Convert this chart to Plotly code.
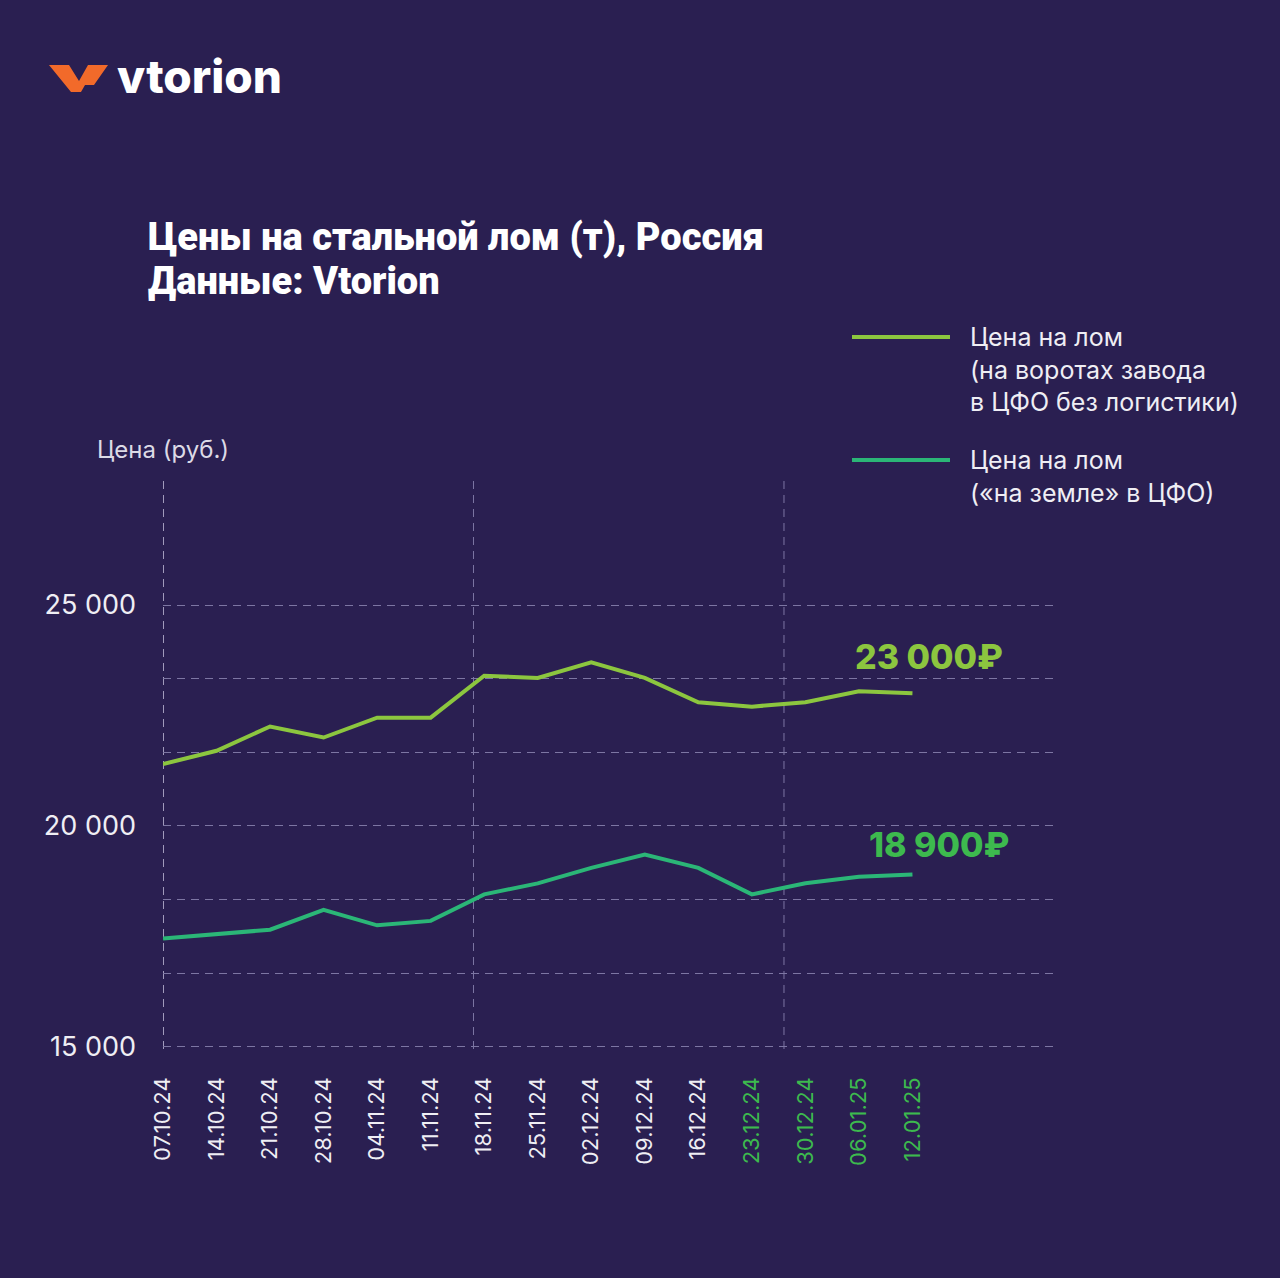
"""
Steel scrap prices chart (Vtorion style), rebuilt with Plotly.
"""

import plotly.graph_objects as go


# --- data -----------------------------------------------------------------
dates = [
    "07.10.24", "14.10.24", "21.10.24", "28.10.24", "04.11.24",
    "11.11.24", "18.11.24", "25.11.24", "02.12.24", "09.12.24",
    "16.12.24", "23.12.24", "30.12.24", "06.01.25", "12.01.25",
]
# "at plant gates in CFD, no logistics"
gate_price = [
    21400, 21700, 22250, 22000, 22450,
    22450, 23400, 23350, 23700, 23350,
    22800, 22700, 22800, 23050, 23000,
]
# "on the ground in CFD"
ground_price = [
    17450, 17550, 17650, 18100, 17750,
    17850, 18450, 18700, 19050, 19350,
    19050, 18450, 18700, 18850, 18900,
]
highlight_from = 11  # labels from 23.12.24 on are drawn in green

title_lines = ["Цены на стальной лом (т), Россия", "Данные: Vtorion"]
legend_gate = "Цена на лом<br>(на воротах завода<br>в ЦФО без логистики)"
legend_ground = "Цена на лом<br>(«на земле» в ЦФО)"

# --- style ----------------------------------------------------------------
W, H = 1280, 1278
BG = "#2a1f51"
GRID = "#7d76a3"
LIGHT_GREEN = "#8cc63f"
TEAL_GREEN = "#2bb677"
LABEL_GREEN = "#3dba4e"
TEXT = "#efeef4"
FONT = "Inter, Roboto, 'Open Sans', sans-serif"
DASH = "8px,6px"


def px(x):
    return x / W


def py(y):
    return 1 - y / H


def rub(v):
    return f"{v:,}".replace(",", " ") + "₽"


x_idx = list(range(len(dates)))
tick_text = [
    d if i < highlight_from else f"<span style='color:{LABEL_GREEN}'>{d}</span>"
    for i, d in enumerate(dates)
]
# thin gridlines between the labelled ticks, up to 25 000 only
minor_grid = [15000 + k * 5000 / 3 for k in range(1, 6) if k % 3]

fig = go.Figure()
fig.add_trace(go.Scatter(
    x=x_idx, y=gate_price, mode="lines",
    line=dict(color=LIGHT_GREEN, width=4),
    name="gate",
))
fig.add_trace(go.Scatter(
    x=x_idx, y=ground_price, mode="lines",
    line=dict(color=TEAL_GREEN, width=4),
    name="ground",
))

fig.update_xaxes(
    domain=[px(163), px(1057)],
    range=[0, 16.7],
    tickmode="array",
    tickvals=x_idx,
    ticktext=tick_text,
    tickangle=-90,
    tickfont=dict(size=22, color=TEXT, family=FONT),
    ticklabelstandoff=23,
    showgrid=False,
    zeroline=False,
    showline=False,
    automargin=False,
)
fig.update_yaxes(
    domain=[py(1049), py(480)],
    range=[14950, 27830],
    tick0=15000,
    dtick=5000,
    tickformat=",d",
    tickfont=dict(size=27, color=TEXT, family=FONT),
    ticklabelstandoff=26,
    showgrid=True,
    gridcolor=GRID,
    gridwidth=1,
    griddash=DASH,
    minor=dict(tickmode="array", tickvals=minor_grid, showgrid=True,
               gridcolor=GRID, gridwidth=1, griddash=DASH),
    zeroline=False,
    showline=False,
    automargin=False,
)

# vertical dashed guides
for xv, col in [(0, "#c9c4e0"), (5.8, GRID), (11.6, GRID)]:
    fig.add_shape(type="line", xref="x", yref="y domain",
                  x0=xv, x1=xv, y0=0, y1=1,
                  line=dict(color=col, width=1.5 if xv == 0 else 1, dash=DASH),
                  layer="below")

# end-value labels
fig.add_annotation(x=x_idx[-1], y=gate_price[-1], text=rub(gate_price[-1]),
                   showarrow=False, xanchor="center", yanchor="bottom",
                   xshift=17, yshift=14,
                   font=dict(size=34, color=LIGHT_GREEN, family=FONT, weight=800))
fig.add_annotation(x=x_idx[-1], y=ground_price[-1], text=rub(ground_price[-1]),
                   showarrow=False, xanchor="center", yanchor="bottom",
                   xshift=27, yshift=8,
                   font=dict(size=34, color=LABEL_GREEN, family=FONT, weight=800))

# y-axis caption
fig.add_annotation(xref="paper", yref="paper", x=px(95), y=py(450),
                   text="Цена (руб.)", showarrow=False,
                   xanchor="left", yanchor="middle",
                   font=dict(size=24, color="#dcdae6", family=FONT))

# title, two lines placed separately to get the tight leading
for line, yc in zip(title_lines, [237, 281]):
    fig.add_annotation(xref="paper", yref="paper", x=px(146), y=py(yc),
                       text=line, showarrow=False,
                       xanchor="left", yanchor="middle", align="left",
                       font=dict(size=38, color="#ffffff",
                                 family="Roboto, Inter, sans-serif", weight=900))

# hand-made legend
for y_line, col, label, y_text in [
    (337, LIGHT_GREEN, legend_gate, 320),
    (460, TEAL_GREEN, legend_ground, 443),
]:
    fig.add_shape(type="line", xref="paper", yref="paper",
                  x0=px(852), x1=px(950), y0=py(y_line), y1=py(y_line),
                  line=dict(color=col, width=4))
    fig.add_annotation(xref="paper", yref="paper", x=px(968), y=py(y_text),
                       text=label, showarrow=False, xanchor="left", yanchor="top",
                       align="left",
                       font=dict(size=25, color=TEXT, family=FONT))

# logo
logo_pts = [(49, 65), (69, 65), (79, 81), (88, 65), (108, 65),
            (94, 85), (85, 85), (81, 92), (71, 92)]
logo_path = "M " + " L ".join(f"{px(x):.5f} {py(y):.5f}" for x, y in logo_pts) + " Z"
fig.add_shape(type="path", xref="paper", yref="paper", path=logo_path,
              fillcolor="#f26a2a", line=dict(width=0))
fig.add_annotation(xref="paper", yref="paper", x=px(115), y=py(76),
                   text="vtorion", showarrow=False,
                   xanchor="left", yanchor="middle",
                   font=dict(size=46, color="#ffffff", family=FONT, weight=800))

fig.update_layout(
    width=W, height=H,
    margin=dict(l=0, r=0, t=0, b=0, autoexpand=False),
    paper_bgcolor=BG, plot_bgcolor=BG,
    showlegend=False,
    separators=". ",
    font=dict(family=FONT, color=TEXT),
)

fig.write_html(
    "out.html",
    config={"displayModeBar": False},
    post_script=(
        "document.body.style.margin='0';"
        "document.body.style.overflow='hidden';"
        "document.documentElement.style.overflow='hidden';"
    ),
)
